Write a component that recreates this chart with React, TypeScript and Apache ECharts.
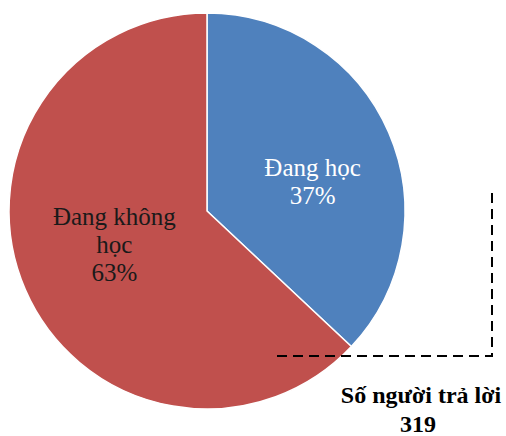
import React, { useEffect, useRef } from "react";
import * as echarts from "echarts";

const categories = ["Đang học", "Đang không học"];
const labelTexts = ["Đang học", "Đang không\nhọc"];
const values = [37, 63];
const colors = ["#4F81BD", "#C0504D"];
const labelColors = ["#FFFFFF", "#1a1a1a"];
const noteLines = ["Số người trả lời", "319"];

const SERIF = "Liberation Serif";

export default function App() {
  const ref = useRef<HTMLDivElement>(null);
  useEffect(() => {
    document.body.style.margin = "0";
    const chart = echarts.init(ref.current!, null, { renderer: "svg" });
    const offsets = [
      { dx: 12, dy: 11 },
      { dx: 1, dy: -7 },
    ];
    chart.setOption({
      animation: false,
      backgroundColor: "#ffffff",
      series: [
        {
          type: "pie",
          center: [207, 211],
          radius: 198,
          startAngle: 90,
          clockwise: true,
          data: categories.map((c, i) => ({
            name: c,
            value: values[i],
            itemStyle: { color: colors[i] },
            label: { color: labelColors[i] },
          })),
          itemStyle: { borderColor: "#ffffff", borderWidth: 1.5 },
          label: {
            show: true,
            position: "inside",
            fontFamily: SERIF,
            fontSize: 25,
            lineHeight: 28,
            align: "center",
            formatter: (p: any) => `${labelTexts[p.dataIndex]}\n${p.value}%`,
          },
          labelLine: { show: false },
          labelLayout: (p: any) => offsets[p.dataIndex],
          emphasis: { disabled: true },
        },
      ],
      graphic: [
        {
          type: "polyline",
          z: 100,
          shape: {
            points: [
              [277, 356],
              [492, 356],
              [492, 193],
              [498, 193],
            ],
          },
          style: { stroke: "#000000", lineWidth: 2, lineDash: [10, 6], fill: null },
          silent: true,
        },
        {
          type: "text",
          z: 100,
          x: 421,
          y: 395,
          style: {
            text: noteLines[0],
            fontFamily: SERIF,
            fontWeight: "bold",
            fontSize: 24,
            fill: "#000000",
            align: "center",
            verticalAlign: "middle",
          },
        },
        {
          type: "text",
          z: 100,
          x: 418,
          y: 424,
          style: {
            text: noteLines[1],
            fontFamily: SERIF,
            fontWeight: "bold",
            fontSize: 24,
            fill: "#000000",
            align: "center",
            verticalAlign: "middle",
          },
        },
      ],
    });
    return () => chart.dispose();
  }, []);
  return <div ref={ref} style={{ width: 506, height: 436 }} />;
}
